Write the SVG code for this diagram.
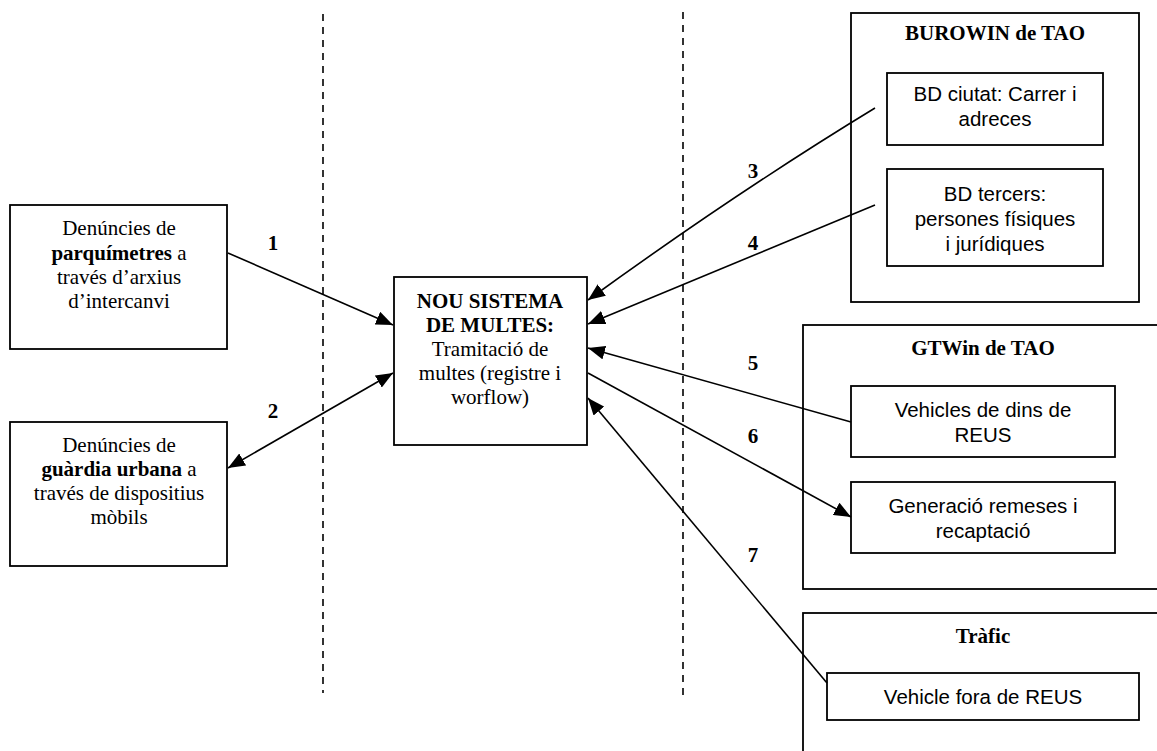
<svg xmlns="http://www.w3.org/2000/svg" width="1157" height="751" viewBox="0 0 1157 751">
<style>
.box{fill:#fff;stroke:#000;stroke-width:1.8}
.ser{font-family:"Liberation Serif","Times New Roman",serif;font-size:21px;fill:#000;text-anchor:middle}
.b{font-weight:bold}
.san{font-family:"Liberation Sans",Arial,sans-serif;font-size:20.5px;fill:#000;text-anchor:middle}
.num{font-family:"Liberation Serif",serif;font-size:21px;font-weight:bold;fill:#000;text-anchor:middle}
.con{stroke:#000;stroke-width:1.6;fill:none}
.dash{stroke:#000;stroke-width:1.6;stroke-dasharray:7 6;fill:none}
</style>
<defs>
<marker id="ah" viewBox="0 0 17 14" refX="17" refY="7" markerWidth="17" markerHeight="14" markerUnits="userSpaceOnUse" orient="auto-start-reverse">
<path d="M0,0 L17,7 L0,14 Z" fill="#000"/>
</marker>
</defs>
<rect width="1157" height="751" fill="#fff"/>
<g id="separators">
<line class="dash" x1="323" y1="14" x2="323" y2="693"/>
<line class="dash" x1="683" y1="12" x2="683" y2="700"/>
</g>
<g id="n-parquimetres">
<rect class="box" x="10" y="205" width="217" height="144"/>
<text class="ser" x="119" y="235"><tspan x="119">Denúncies de</tspan><tspan x="119" dy="25"><tspan class="b">parquímetres</tspan> a</tspan><tspan x="119" dy="24">través d’arxius</tspan><tspan x="119" dy="24">d’intercanvi</tspan></text>
</g>
<g id="n-guardia">
<rect class="box" x="10" y="422" width="217" height="144"/>
<text class="ser" x="119" y="452"><tspan x="119">Denúncies de</tspan><tspan x="119" dy="24"><tspan class="b">guàrdia urbana</tspan> a</tspan><tspan x="119" dy="24">través de dispositius</tspan><tspan x="119" dy="24">mòbils</tspan></text>
</g>
<g id="n-central">
<rect class="box" x="394" y="277" width="193" height="168"/>
<text class="ser" x="490" y="308"><tspan x="490" class="b">NOU SISTEMA</tspan><tspan x="490" dy="24" class="b">DE MULTES:</tspan><tspan x="490" dy="24">Tramitació de</tspan><tspan x="490" dy="24">multes (registre i</tspan><tspan x="490" dy="24">worflow)</tspan></text>
</g>
<g id="n-burowin">
<rect class="box" x="851" y="13" width="288" height="289"/>
<text class="ser b" x="995" y="40">BUROWIN de TAO</text>
</g>
<g id="n-bdciutat">
<rect class="box" x="887" y="73" width="216" height="72"/>
<text class="san" x="995" y="101"><tspan x="995">BD ciutat: Carrer i</tspan><tspan x="995" dy="25">adreces</tspan></text>
</g>
<g id="n-bdtercers">
<rect class="box" x="887" y="169" width="216" height="97"/>
<text class="san" x="995" y="201"><tspan x="995">BD tercers:</tspan><tspan x="995" dy="25">persones físiques</tspan><tspan x="995" dy="25">i jurídiques</tspan></text>
</g>
<g id="n-gtwin">
<rect class="box" x="803" y="325" width="360" height="264"/>
<text class="ser b" x="983" y="355">GTWin de TAO</text>
</g>
<g id="n-vehdins">
<rect class="box" x="851" y="386" width="264" height="71"/>
<text class="san" x="983" y="417"><tspan x="983">Vehicles de dins de</tspan><tspan x="983" dy="25">REUS</tspan></text>
</g>
<g id="n-remeses">
<rect class="box" x="851" y="482" width="264" height="71"/>
<text class="san" x="983" y="513"><tspan x="983">Generació remeses i</tspan><tspan x="983" dy="25">recaptació</tspan></text>
</g>
<g id="n-trafic">
<rect class="box" x="803" y="613" width="360" height="150"/>
<text class="ser b" x="983" y="643">Tràfic</text>
</g>
<g id="n-vehfora">
<rect class="box" x="827" y="673" width="312" height="47"/>
<text class="san" x="983" y="704">Vehicle fora de REUS</text>
</g>
<g id="connectors">
<line class="con" x1="228" y1="253" x2="393" y2="325" marker-end="url(#ah)"/>
<line class="con" x1="228" y1="468" x2="393" y2="373" marker-start="url(#ah)" marker-end="url(#ah)"/>
<path class="con" d="M875,108 Q737,192 588,300" marker-end="url(#ah)"/>
<line class="con" x1="875" y1="205" x2="588" y2="324" marker-end="url(#ah)"/>
<line class="con" x1="851" y1="422" x2="588" y2="348" marker-end="url(#ah)"/>
<line class="con" x1="588" y1="373" x2="851" y2="517" marker-end="url(#ah)"/>
<line class="con" x1="827" y1="683" x2="588" y2="398" marker-end="url(#ah)"/>
<text class="num" x="273" y="250">1</text>
<text class="num" x="273" y="418">2</text>
<text class="num" x="753" y="178">3</text>
<text class="num" x="753" y="250">4</text>
<text class="num" x="753" y="370">5</text>
<text class="num" x="753" y="443">6</text>
<text class="num" x="753" y="562">7</text>
</g>
</svg>
